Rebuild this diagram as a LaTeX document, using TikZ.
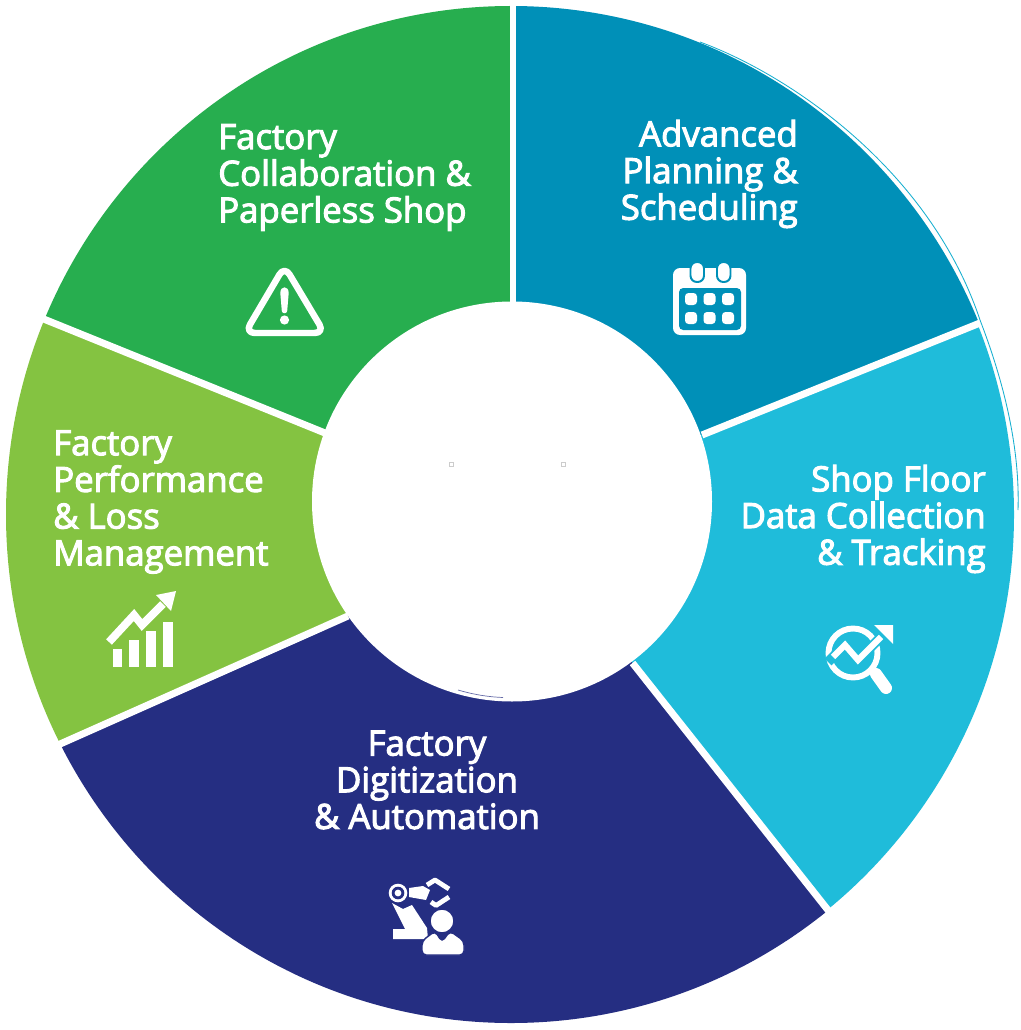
\documentclass[tikz,border=0pt]{standalone}
\usepackage{fontspec}
\newfontfamily\labfont{Open Sans}[FakeBold=3.0]
\definecolor{cBlue}{RGB}{0,144,184}
\definecolor{cTeal}{RGB}{31,188,218}
\definecolor{cNavy}{RGB}{37,46,130}
\definecolor{cLime}{RGB}{132,195,65}
\definecolor{cGreen}{RGB}{39,174,79}
\tikzset{
  lab/.style={text=white,font=\labfont\fontsize{24.7}{26.1}\selectfont,inner sep=0pt},
  sep/.style={draw=white,line width=5pt},
  iconw/.style={fill=white,draw=none},
  iconl/.style={draw=white,line width=5.6pt,line join=miter},
}
\begin{document}
\begin{tikzpicture}[x=0.025cm,y=-0.025cm]
\useasboundingbox (0,0) rectangle (1020,1030);
\fill[white] (0,0) rectangle (1020,1030);
% wedges
\begin{scope}
 \clip (512,501)--(513,300)--(513,-50)--(1100,-50)--(1100,274.5)--(702,435)--cycle;
 \fill[cBlue] (511,514.5) ellipse [x radius=505,y radius=508.5];
\end{scope}
\begin{scope}
 \clip (512,501)--(702,435)--(1100,274.5)--(1100,1100)--(978,1100)--(632.5,663)--cycle;
 \fill[cTeal] (511,514.5) ellipse [x radius=503,y radius=508.5];
\end{scope}
\begin{scope}
 \clip (512,501)--(632.5,663)--(978,1100)--(-50,1100)--(-50,793)--(348,616)--cycle;
 \fill[cNavy] (511,514.5) ellipse [x radius=505,y radius=508.5];
\end{scope}
\begin{scope}
 \clip (512,501)--(348,616)--(-50,793)--(-50,281)--(325,433)--cycle;
 \fill[cLime] (511,514.5) ellipse [x radius=505,y radius=508.5];
\end{scope}
\begin{scope}
 \clip (512,501)--(325,433)--(-50,281)--(-50,-50)--(513,-50)--(513,300)--cycle;
 \fill[cGreen] (511,514.5) ellipse [x radius=505,y radius=508.5];
\end{scope}
% separators
\draw[sep,line width=4.3pt] (513,320)--(513,0);
\draw[sep] (702,435)--(985,321);
\draw[sep] (632.5,663)--(835,919);
\draw[sep] (348,616)--(50,748.5);
\draw[sep] (325,433)--(35,315.5);
% thin edge arc
\draw[cTeal!70!cBlue,line width=0.6pt] (700,42) .. controls (790,75) and (930,170) .. (980,320) .. controls (1005,385) and (1020,450) .. (1018,510);
% hub
\fill[white] (512,501.5) circle [radius=200];
\draw[cNavy!70!white,line width=0.5pt] (458,690) .. controls (475,695) and (490,697) .. (503,697.5);
\draw[gray!40,line width=0.4pt] (449,462) rectangle (453.5,466.5);
\draw[gray!40,line width=0.4pt] (561,462) rectangle (565.5,466.5);
% labels
\node[lab,align=left,anchor=west] (collab) at (218,177.5) {Factory\\Collaboration \&\\Paperless Shop};
\node[lab,align=right,anchor=east] (plan) at (798,174) {Advanced\\Planning \&\\Scheduling};
\node[lab,align=right,anchor=east] (shop) at (986,519) {Shop Floor\\Data Collection\\\& Tracking};
\node[lab,align=left,anchor=west] (perf) at (53,502) {Factory\\Performance\\\& Loss\\Management};
\node[lab,align=center,anchor=center] (digit) at (427,780) {Factory\\Digitization\\\& Automation};
% calendar icon
\fill[white,rounded corners=5] (673,268) rectangle (746,335);
\fill[cBlue,rounded corners=3] (679,288) rectangle (741,330);
\foreach \xa in {685,703.5,722}{\foreach \ya in {293,312}{
  \fill[white,rounded corners=2.5] (\xa,\ya) rectangle ++(12,12);}}
\foreach \xa in {692,718.5}{
  \fill[white,draw=cBlue,line width=1.4pt,rounded corners=4.5] (\xa-1.5,262) rectangle ++(13.5,20);}
% warning icon
\draw[white,line width=4.6pt,rounded corners=7,line join=round] (284.5,266)--(324.5,333)--(245,333)--cycle;
\fill[white] (280.3,293) .. controls (280.3,285.5) and (288.7,285.5) .. (288.7,293) -- (287.2,311) .. controls (286.8,314) and (282.2,314) .. (281.8,311) -- cycle;
\fill[white] (284.5,320) circle [radius=4.6];
% chart icon
\fill[iconw] (113,649) rectangle (122,667);
\fill[iconw] (129,640) rectangle (139,667);
\fill[iconw] (146,631) rectangle (156,667);
\fill[iconw] (163,622) rectangle (173,667);
\draw[iconl] (109,642)--(134,615)--(142,625)--(163,604);
\fill[iconw] (156,595)--(176,591)--(171,611)--cycle;
% magnifier icon
\draw[white,line width=4.2pt] (853,653) circle [radius=24.5];
\draw[white,line width=8.5pt,line cap=round] (876,674)--(886,688);
\draw[cTeal,line width=7pt] (828,662)--(845,645)--(858,660)--(882,636);
\draw[iconl,line width=4.4pt] (833,657)--(845,645)--(858,660)--(881,637);
\fill[iconw] (874,625)--(893,625)--(893,644)--cycle;
% robot icon
\fill[white] (398,893) circle [radius=9.3];
\fill[cNavy] (398,893) circle [radius=6.3];
\fill[white] (398,893) circle [radius=3.4];
\fill[iconw] (409,888)--(423,886)--(430,890)--(426,900)--(409,897)--cycle;
\draw[white,line width=3.4pt,line join=round] (427,885)--(435,880)--(449,889);
\draw[white,line width=3.4pt,line join=round] (431,902)--(436,905.5)--(449,897);
\fill[iconw] (392,903)--(403,909)--(412,905)--(427,928)--(428,939)--(393,939)--(393,929)--(405,929)--cycle;
\fill[white,draw=cNavy,line width=1pt] (442,921) circle [radius=12];
\fill[white,draw=cNavy,line width=1pt,rounded corners=3] (422,955)--(422,941)--(435,931)--(442,942)--(450,931)--(464,941)--(464,955)--cycle;
\end{tikzpicture}
\end{document}
